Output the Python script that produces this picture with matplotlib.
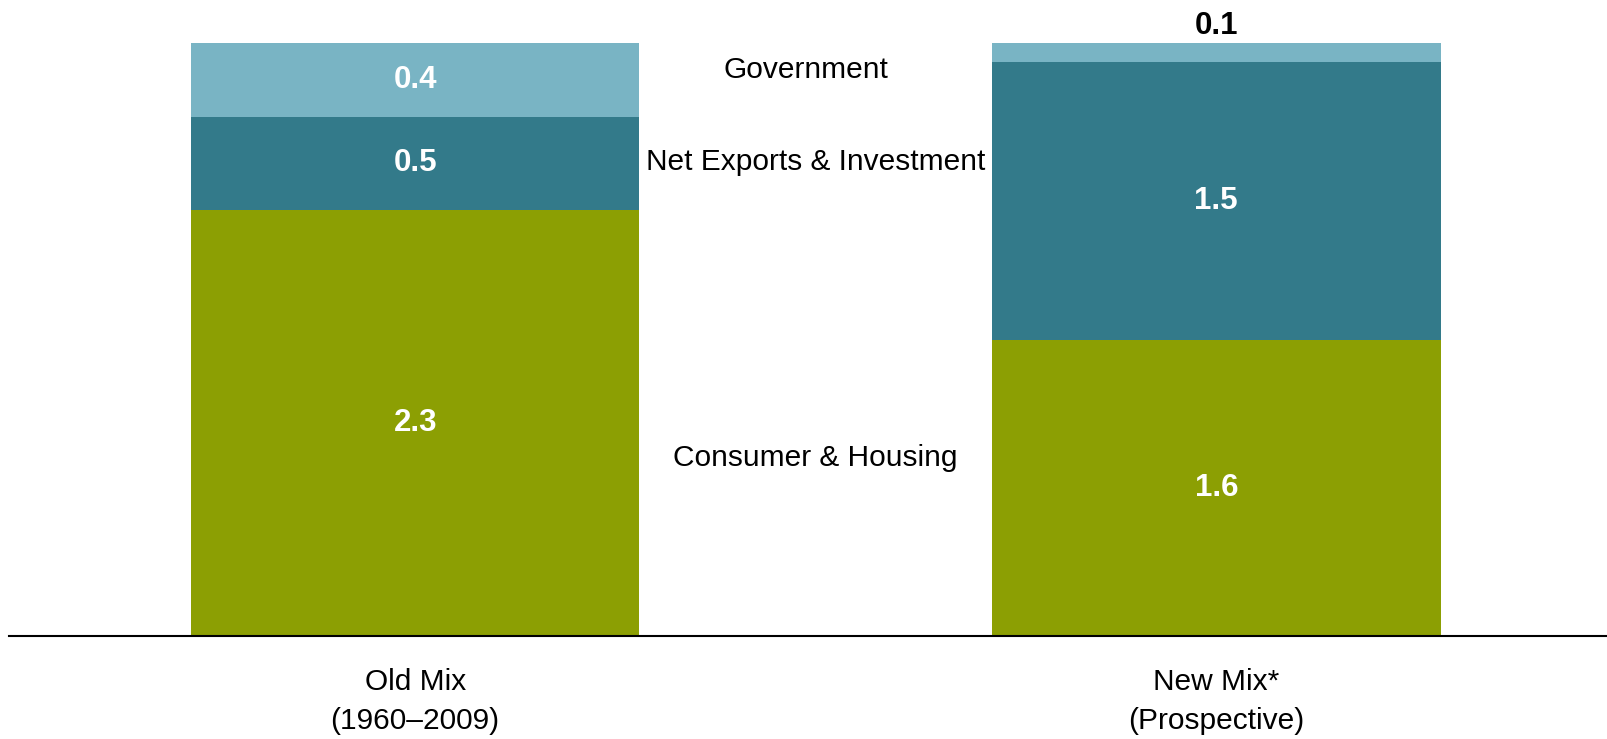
import matplotlib
matplotlib.use("Agg")
import matplotlib.pyplot as plt
import numpy as np

plt.rcParams['font.family'] = ['Liberation Sans', 'DejaVu Sans']

# data
mixes = ['Old Mix\n(1960\u20132009)', 'New Mix*\n(Prospective)']
consumer = [2.3, 1.6]
net_exports = [0.5, 1.5]
government = [0.4, 0.1]
series_names = ['Consumer & Housing', 'Net Exports & Investment', 'Government']

colors = ['#8C9F03', '#337A8A', '#79B4C4']

fig = plt.figure(figsize=(16.08, 7.39), dpi=100)
ax = fig.add_axes([9 / 1608, 1 - 636 / 739, 1 - 9 / 1608, (636 - 43) / 739])

x = np.arange(len(mixes))
w = 0.56
bottom = np.zeros(len(mixes))
for vals, c in zip([consumer, net_exports, government], colors):
    ax.bar(x, vals, w, bottom=bottom, color=c, linewidth=0)
    bottom += np.array(vals)

# value labels
seg_bottom = np.zeros(len(mixes))
for vals in [consumer, net_exports, government]:
    for i, v in enumerate(vals):
        if v >= 0.3:
            ax.text(x[i], seg_bottom[i] + v / 2, f'{v:.1f}', ha='center', va='center',
                    color='white', fontsize=22.5, fontweight='bold')
        else:
            ax.text(x[i], seg_bottom[i] + v + 0.09, f'{v:.1f}', ha='center', va='center',
                    color='black', fontsize=22.5, fontweight='bold', clip_on=False)
    seg_bottom += np.array(vals)

# series names between bars
ax.text(0.5, 0.96, series_names[0], ha='center', va='center', fontsize=21.5)
ax.text(0.5, 2.56, series_names[1], ha='center', va='center', fontsize=21.5)
ax.text(0.488, 3.055, series_names[2], ha='center', va='center', fontsize=21.5)

ax.set_xlim(-0.507, 1.489)
ax.set_ylim(0, 3.2)
ax.set_xticks(x)
ax.set_xticklabels(mixes, fontsize=21.5, linespacing=1.5)
ax.tick_params(axis='x', length=0, pad=23)
ax.set_yticks([])
for s in ['top', 'right', 'left']:
    ax.spines[s].set_visible(False)
ax.spines['bottom'].set_linewidth(1.5)
ax.spines['bottom'].set_color('black')

fig.savefig('out.png', dpi=100)
